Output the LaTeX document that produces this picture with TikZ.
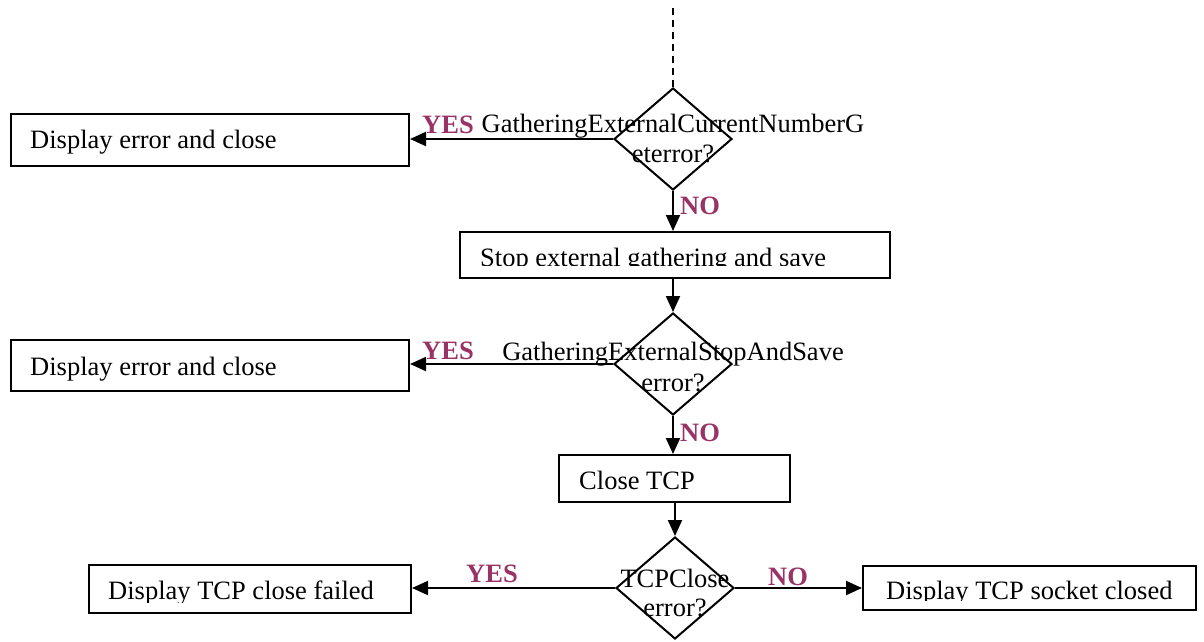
\documentclass[tikz,border=0pt]{standalone}
\usepackage{fontspec}
\setmainfont{Liberation Serif}
\usetikzlibrary{shapes.geometric,arrows.meta}
\definecolor{lab}{RGB}{153,51,102}
\begin{document}
\begin{tikzpicture}[x=1pt,y=-1pt,
 every node/.style={font=\fontsize{26.5}{30}\selectfont},
 box/.style={draw, line width=2pt, inner sep=0pt, anchor=north west},
 dia/.style={draw, diamond, line width=2pt, inner sep=0pt, minimum width=118pt, minimum height=102pt},
 txt/.style={anchor=base west, inner sep=0pt},
 dtxt/.style={anchor=base, inner sep=0pt},
 lbl/.style={text=lab, font=\fontsize{26.5}{30}\selectfont\bfseries, anchor=base west, inner sep=0pt},
 arr/.style={line width=2pt, -{Triangle[length=16pt,width=14pt]}},
]
\useasboundingbox (0,0) rectangle (1204,641);

% first decision
\coordinate (start) at (673,8);
\node[dia] (d1) at (673,139) {};
\node[dtxt] (d1a) at (673,132) {GatheringExternalCurrentNumberG};
\node[dtxt] (d1b) at (673,162) {eterror?};
\node[box, minimum width=398pt, minimum height=52pt] (e1) at (10,113) {};
\node[txt] (e1t) at (30,148) {Display error and close};
\node[lbl] (y1) at (422,133) {YES};
\node[lbl] (n1) at (680,214) {NO};

% stop box
\node[box, minimum width=430pt, minimum height=46pt] (s) at (459,231) {};
\begin{scope}
\clip (459,231) rectangle (889,265);
\node[txt] (st) at (480,266) {Stop external gathering and save};
\end{scope}

% second decision
\node[dia] (d2) at (673,364) {};
\node[dtxt] (d2a) at (673,360) {GatheringExternalStopAndSave};
\node[dtxt] (d2b) at (673,391) {error?};
\node[box, minimum width=398pt, minimum height=51pt] (e2) at (10,339) {};
\node[txt] (e2t) at (30,375) {Display error and close};
\node[lbl] (y2) at (422,359) {YES};
\node[lbl] (n2) at (680,441) {NO};

% close TCP
\node[box, minimum width=231pt, minimum height=47pt] (c) at (558,454) {};
\node[txt] (ct) at (579,489) {Close TCP};

% third decision
\node[dia] (d3) at (675,588) {};
\node[dtxt] (d3a) at (675,587) {TCPClose};
\node[dtxt] (d3b) at (675,616) {error?};
\node[box, minimum width=322pt, minimum height=48pt] (f1) at (88,564) {};
\begin{scope}
\clip (88,564) rectangle (410,602);
\node[txt] (f1t) at (108,599) {Display TCP close failed};
\end{scope}
\node[box, minimum width=333pt, minimum height=44pt] (f2) at (862,565) {};
\begin{scope}
\clip (862,565) rectangle (1195,600);
\node[txt] (f2t) at (886,599) {Display TCP socket closed};
\end{scope}
\node[lbl] (y3) at (466,582) {YES};
\node[lbl] (n3) at (768,585) {NO};

% connectors
\draw[line width=2pt, dash pattern=on 7pt off 5pt] (start) -- (d1.north);
\draw[arr] (d1.west) -- (e1.east |- d1.west);
\draw[arr] (d1.south) -- (d1.south |- s.north);
\draw[arr] (d2.north |- s.south) -- (d2.north);
\draw[arr] (d2.west) -- (e2.east |- d2.west);
\draw[arr] (d2.south) -- (d2.south |- c.north);
\draw[arr] (d3.north |- c.south) -- (d3.north);
\draw[arr] (d3.west) -- (f1.east |- d3.west);
\draw[arr] (d3.east) -- (f2.west |- d3.east);
\end{tikzpicture}
\end{document}
